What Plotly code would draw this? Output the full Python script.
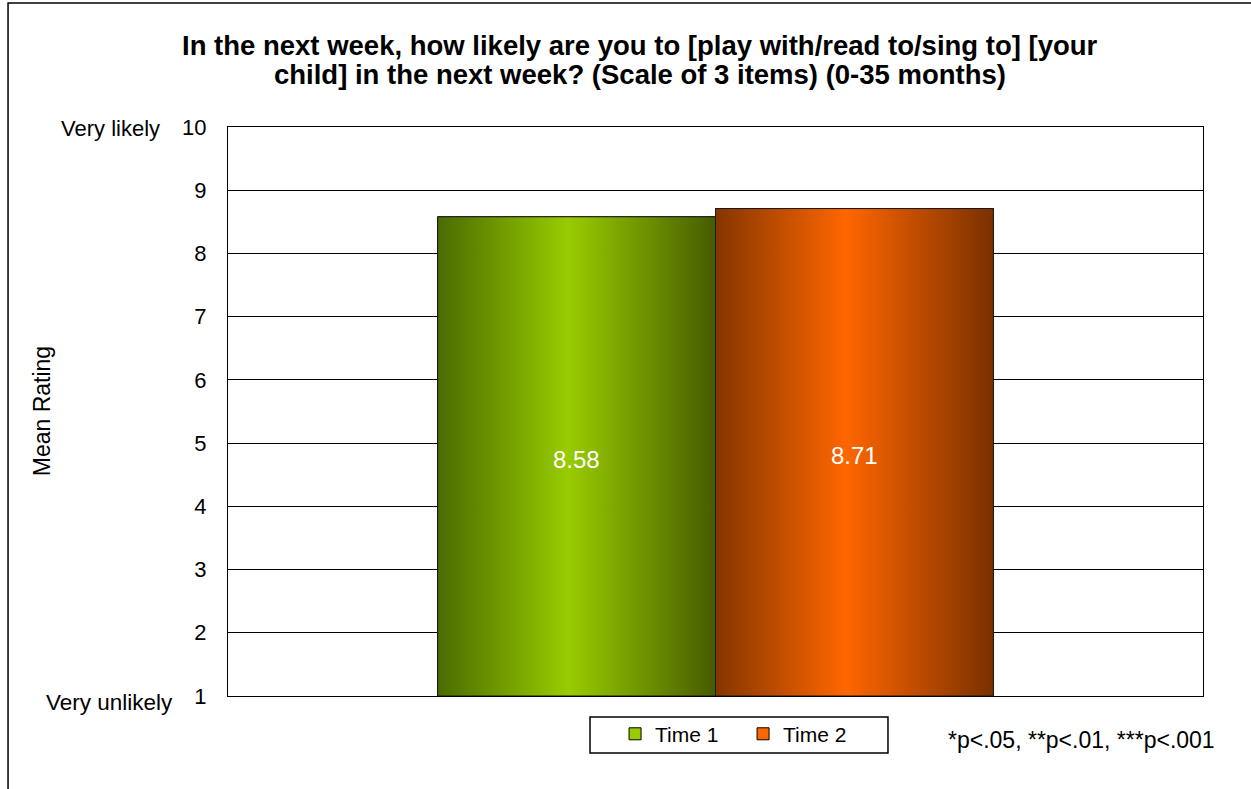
import plotly.graph_objects as go

# ---- data ----
categories = ["Time 1", "Time 2"]
values = [8.58, 8.71]
value_labels = ["8.58", "8.71"]
y_ticks = [1, 2, 3, 4, 5, 6, 7, 8, 9, 10]
title_lines = ["In the next week, how likely are you to [play with/read to/sing to] [your",
               "child] in the next week? (Scale of 3 items) (0-35 months)"]
footnote = "*p<.05, **p<.01, ***p<.001"
y_title = "Mean Rating"
top_label = "Very likely"
bottom_label = "Very unlikely"

# ---- styles ----
center_colors = ["#99cc00", "#ff6600"]
edge_colors = [("#4a6b00", "#465c00"), ("#843500", "#7a3000")]
FONT = "Arial, Liberation Sans, sans-serif"
BASE = 1
BARGAP = 0.43

fig = go.Figure()

n = len(categories)
bar_w = (1 - BARGAP) / n
for i, (cat, v) in enumerate(zip(categories, values)):
    fig.add_trace(go.Bar(
        x=[0], y=[v - BASE], base=BASE, name=cat,
        marker=dict(color=center_colors[i], line=dict(color="#000000", width=1)),
        hoverinfo="skip",
    ))

# gradient overlays (same geometry as the bars, derived from the data)
for i, v in enumerate(values):
    x0 = -(1 - BARGAP) / 2 + i * bar_w
    x1 = x0 + bar_w
    dark_l, dark_r = edge_colors[i]
    fig.add_trace(go.Scatter(
        x=[x0, x0, x1, x1, x0], y=[BASE, v, v, BASE, BASE],
        mode="lines", fill="toself",
        line=dict(color="#1a1a1a", width=1),
        fillgradient=dict(type="horizontal",
                          colorscale=[[0, dark_l], [0.47, center_colors[i]], [1, dark_r]]),
        showlegend=False, hoverinfo="skip",
    ))

# value labels centred in each bar
for i, v in enumerate(values):
    x0 = -(1 - BARGAP) / 2 + i * bar_w
    fig.add_annotation(x=x0 + bar_w / 2, y=(v + BASE) / 2, text=value_labels[i],
                       showarrow=False, yshift=-3,
                       font=dict(color="white", size=24, family=FONT))

fig.update_layout(
    width=1251, height=789,
    margin=dict(l=228, r=48, t=127, b=93),
    paper_bgcolor="white", plot_bgcolor="white",
    barmode="group", bargap=BARGAP, bargroupgap=0,
    font=dict(family=FONT, size=22, color="black"),
    xaxis=dict(range=[-0.5, 0.5], showticklabels=False, showgrid=False, zeroline=False,
               showline=True, linecolor="black", linewidth=1, mirror=True, ticks=""),
    yaxis=dict(range=[1, 10], tickvals=y_ticks, showgrid=True, gridcolor="black", gridwidth=1,
               zeroline=False, showline=True, linecolor="black", linewidth=1, mirror=True,
               ticks="", ticklabelstandoff=16, tickfont=dict(size=22, family=FONT)),
    legend=dict(orientation="h", x=0.397, y=-0.031, xanchor="left", yanchor="top",
                borderwidth=0, bgcolor="rgba(0,0,0,0)",
                font=dict(size=21, family=FONT), traceorder="normal",
                itemwidth=30, entrywidth=83),
)

# legend frame
fig.add_shape(type="rect", xref="paper", yref="paper",
              x0=0.3713, x1=0.6769, y0=-0.1002, y1=-0.0369,
              line=dict(color="black", width=1.5), fillcolor="white", layer="below")

# title lines
for line, yp in zip(title_lines, [1.143, 1.092]):
    fig.add_annotation(xref="paper", yref="paper", x=0.423, y=yp, xanchor="center",
                       yanchor="middle", text="<b>" + line + "</b>", showarrow=False,
                       font=dict(size=27.5, family=FONT, color="black"))

fig.add_annotation(xref="paper", yref="paper", x=-0.191, y=0.5, textangle=-90,
                   xanchor="center", yanchor="middle", text=y_title, showarrow=False,
                   font=dict(size=23, family=FONT))
fig.add_annotation(xref="paper", yref="y", x=-0.0677, y=10, xanchor="right", yanchor="middle",
                   text=top_label, showarrow=False, yshift=-1, font=dict(size=22, family=FONT))
fig.add_annotation(xref="paper", yref="y", x=-0.0544, y=1, xanchor="right", yanchor="middle",
                   text=bottom_label, showarrow=False, yshift=-6, font=dict(size=22.5, family=FONT))
fig.add_annotation(xref="paper", yref="paper", x=1.0144, y=-0.0773, xanchor="right",
                   yanchor="middle", text=footnote, showarrow=False,
                   font=dict(size=23, family=FONT))

# outer chart frame
fig.add_shape(type="rect", xref="paper", yref="paper",
              x0=-0.2256, x1=1.2, y0=-0.3, y1=1.218,
              line=dict(color="black", width=1.5), fillcolor="rgba(0,0,0,0)", layer="below")

fig.write_html("out.html", config={"displayModeBar": False},
               post_script="document.body.style.margin='0';document.body.style.overflow='hidden';")
